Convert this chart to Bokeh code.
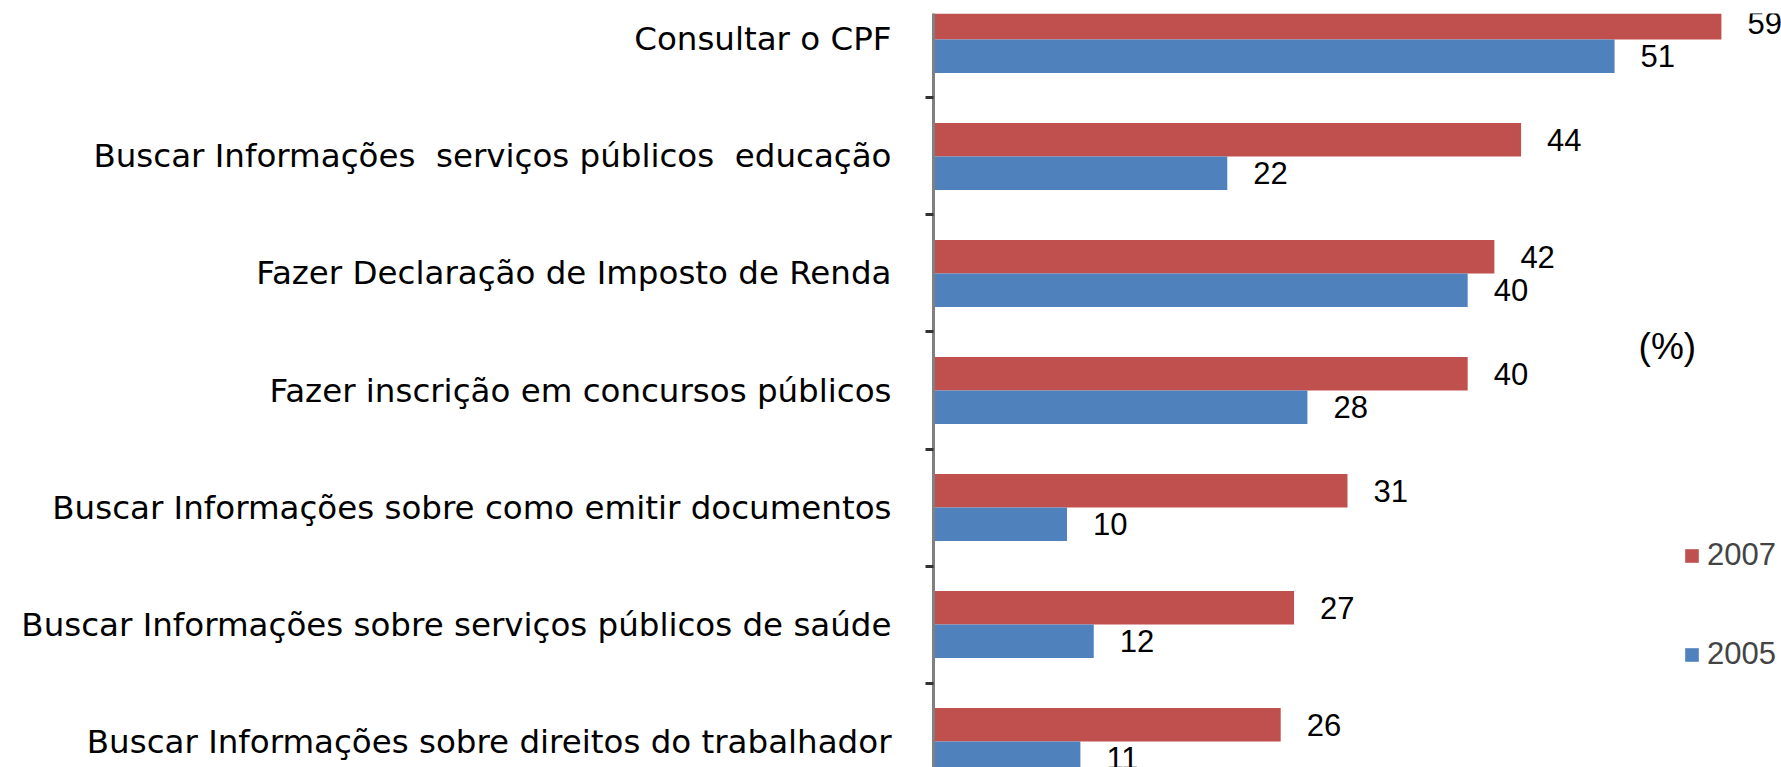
from bokeh.plotting import figure
from bokeh.models import ColumnDataSource, Range1d, FixedTicker, Legend, LegendItem, Label
from bokeh.transform import dodge
from bokeh.core.properties import value
from bokeh.embed import file_html
from bokeh.resources import INLINE

categories = [
    "Consultar o CPF",
    "Buscar Informações\u00a0 serviços públicos\u00a0 educação",
    "Fazer Declaração de Imposto de Renda",
    "Fazer inscrição em concursos públicos",
    "Buscar Informações sobre como emitir documentos",
    "Buscar Informações sobre serviços públicos de saúde",
    "Buscar Informações sobre direitos do trabalhador",
]
series_2007 = [59, 44, 42, 40, 31, 27, 26]
series_2005 = [51, 22, 40, 28, 10, 12, 11]
series_names = ["2007", "2005"]
unit_label = "(%)"

RED = "#C0504D"
BLUE = "#4F81BD"

idx = list(range(len(categories)))
src = ColumnDataSource(dict(
    idx=idx,
    v2007=series_2007,
    v2005=series_2005,
    t2007=[str(v) for v in series_2007],
    t2005=[str(v) for v in series_2005],
))

W, H = 1781, 767
p = figure(width=W, height=H, output_backend="svg", toolbar_location=None,
           x_axis_location=None,
           x_range=Range1d(0, 63.5), y_range=Range1d(6.222, -0.222),
           min_border_left=933, min_border_right=0, min_border_top=13, min_border_bottom=0)
p.outline_line_color = None
p.xgrid.visible = False
p.ygrid.visible = False
p.background_fill_color = "white"
p.border_fill_color = "white"

BAR_H = 0.286
OFF = BAR_H / 2
r07 = p.hbar(y=dodge("idx", -OFF, range=p.y_range), left=0, right="v2007", height=BAR_H,
             source=src, fill_color=RED, line_color=None)
r05 = p.hbar(y=dodge("idx", OFF, range=p.y_range), left=0, right="v2005", height=BAR_H,
             source=src, fill_color=BLUE, line_color=None)

p.text(x="v2007", y=dodge("idx", -OFF, range=p.y_range), text="t2007", source=src,
       x_offset=26, text_baseline="middle", text_align="left",
       text_font=value("Liberation Sans"), text_font_size="31px", text_color="black")
p.text(x="v2005", y=dodge("idx", OFF, range=p.y_range), text="t2005", source=src,
       x_offset=26, text_baseline="middle", text_align="left",
       text_font=value("Liberation Sans"), text_font_size="31px", text_color="black")

ax = p.yaxis[0]
ax.ticker = FixedTicker(ticks=idx, minor_ticks=[i + 0.5 for i in idx[:-1]])
ax.major_label_overrides = {i: c for i, c in zip(idx, categories)}
ax.major_tick_out = 0
ax.major_tick_in = 0
ax.minor_tick_out = 8
ax.minor_tick_in = 0
ax.minor_tick_line_color = "#333333"
ax.minor_tick_line_width = 3
ax.axis_line_color = "#808080"
ax.axis_line_width = 3
ax.major_label_standoff = 34
ax.major_label_text_font = "DejaVu Sans"
ax.major_label_text_font_size = "32.5px"
ax.major_label_text_color = "black"

PCT_X, PCT_Y = 52.8, 2.62
p.add_layout(Label(x=PCT_X, y=PCT_Y, text=unit_label, text_baseline="middle", text_align="left",
                   text_font="Liberation Sans", text_font_size="37px", text_color="black"))

legend = Legend(items=[LegendItem(label=series_names[0], renderers=[r07]),
                       LegendItem(label=series_names[1], renderers=[r05])],
                location=(750, 95), orientation="vertical")
legend.label_text_font = "Liberation Sans"
legend.label_text_font_size = "31px"
legend.glyph_width = 17
legend.glyph_height = 17
legend.label_standoff = 7
legend.spacing = 63
legend.padding = 0
legend.margin = 0
legend.border_line_color = None
legend.background_fill_alpha = 0
p.add_layout(legend)

open("out.html", "w").write(file_html(p, INLINE))
